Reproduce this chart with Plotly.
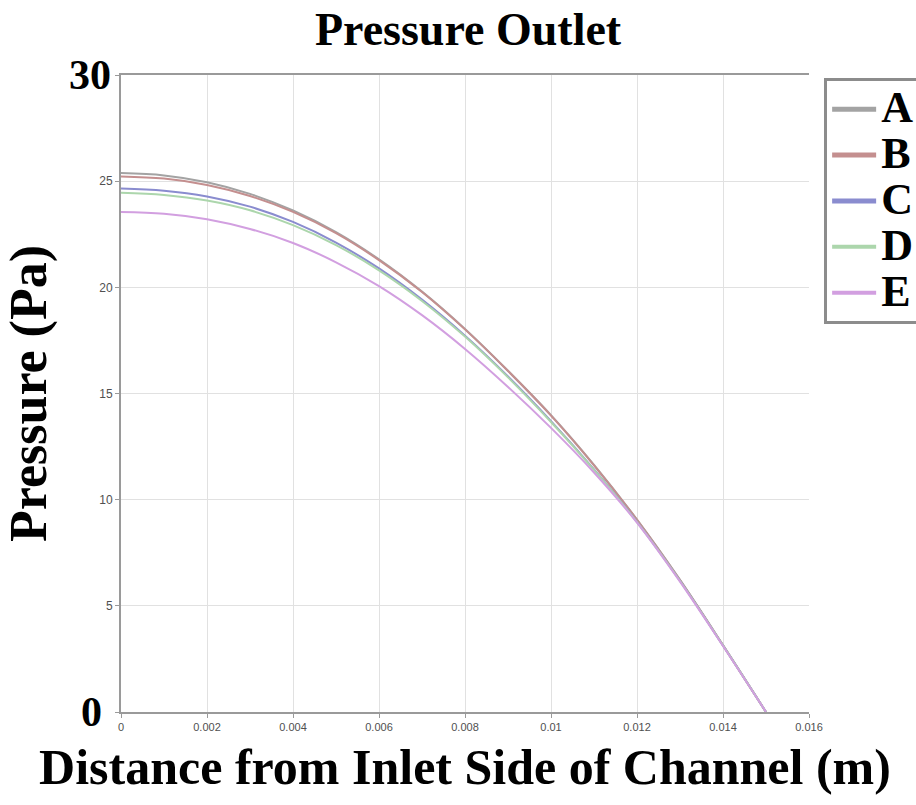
import plotly.graph_objects as go

# Distance along the channel (m)
distance = [0.000, 0.001, 0.002, 0.003, 0.004, 0.005, 0.006, 0.007,
            0.008, 0.009, 0.010, 0.011, 0.012, 0.013, 0.014, 0.015]

# Pressure profiles (Pa) for each case
pressure_a = [25.38, 25.27, 24.95, 24.40, 23.62, 22.60, 21.32, 19.80,
              18.04, 16.07, 13.98, 11.64, 9.06, 6.22, 3.15, 0.0]
pressure_b = [25.22, 25.12, 24.82, 24.30, 23.55, 22.55, 21.28, 19.78,
              18.02, 16.06, 13.96, 11.62, 9.05, 6.21, 3.14, 0.0]
pressure_c = [24.65, 24.55, 24.28, 23.80, 23.08, 22.11, 20.89, 19.42,
              17.72, 15.80, 13.70, 11.43, 8.96, 6.18, 3.13, 0.0]
pressure_d = [24.45, 24.35, 24.09, 23.63, 22.93, 21.99, 20.80, 19.36,
              17.68, 15.76, 13.66, 11.40, 8.94, 6.17, 3.13, 0.0]
pressure_e = [23.55, 23.47, 23.21, 22.75, 22.09, 21.18, 20.06, 18.69,
              17.10, 15.31, 13.38, 11.28, 8.92, 6.14, 3.11, 0.0]

series_names = ["A", "B", "C", "D", "E"]
series_values = [pressure_a, pressure_b, pressure_c, pressure_d, pressure_e]
series_colors = ["#a3a3a3", "#c48f8f", "#8a8ccf", "#acd6ac", "#d29fe0"]
legend_widths = [5, 5, 5, 4, 4]

x_tick_vals = [0, 0.002, 0.004, 0.006, 0.008, 0.01, 0.012, 0.014, 0.016]
x_tick_text = ["0", "0.002", "0.004", "0.006", "0.008", "0.01", "0.012", "0.014", "0.016"]
y_tick_vals = [0, 5, 10, 15, 20, 25, 30]
y_tick_text = ["0", "5", "10", "15", "20", "25", "30"]
y_big_ticks = [0, 30]

serif = "Liberation Serif, Times New Roman, serif"
sans = "Liberation Sans, Arial, sans-serif"

fig = go.Figure()

for name, vals, color in zip(series_names, series_values, series_colors):
    fig.add_trace(go.Scatter(
        x=distance, y=vals, mode="lines", name=name,
        line=dict(color=color, width=2, shape="spline", smoothing=1.0),
        showlegend=False,
    ))

# legend entries with thicker line samples
for name, color, w in zip(series_names, series_colors, legend_widths):
    fig.add_trace(go.Scatter(
        x=[None], y=[None], mode="lines",
        name="<span style='font-size:44px'><b>%s</b></span>" % name,
        line=dict(color=color, width=w),
    ))

# large labels at the ends of the pressure axis
y_small_text = ["" if v in y_big_ticks else t for v, t in zip(y_tick_vals, y_tick_text)]
annotations = []
for v, t in zip(y_tick_vals, y_tick_text):
    if v in y_big_ticks:
        annotations.append(dict(
            x=0, xref="paper", xshift=-8 if v == 30 else -17, y=v, yref="y",
            text="<b>%s</b>" % t, showarrow=False,
            xanchor="right", yanchor="middle",
            font=dict(family=serif, size=42, color="black"),
        ))

fig.update_layout(
    width=916, height=805,
    margin=dict(l=121, r=107, t=75, b=93, autoexpand=False),
    paper_bgcolor="white", plot_bgcolor="white",
    title=dict(
        text="<b>Pressure Outlet</b>",
        x=0.511, xref="container", xanchor="center",
        y=1 - 29 / 805, yref="container", yanchor="middle",
        font=dict(family=serif, size=46, color="black"),
    ),
    legend=dict(
        x=1.022, xanchor="left", y=0.995, yanchor="top",
        bgcolor="white", bordercolor="#8c8c8c", borderwidth=3,
        font=dict(family=serif, size=33, color="black"),
        itemwidth=44, tracegroupgap=0,
    ),
    annotations=annotations,
    showlegend=True,
)

fig.update_xaxes(
    range=[0, 0.016], tickvals=x_tick_vals, ticktext=x_tick_text,
    showgrid=True, gridcolor="#e1e1e1", gridwidth=1,
    showline=True, linecolor="#9a9a9a", linewidth=2, mirror=True,
    ticks="outside", ticklen=4, tickcolor="#9a9a9a",
    tickfont=dict(family=sans, size=11, color="#505050"),
    zeroline=False, automargin=False,
    title=dict(text="<b>Distance from Inlet Side of Channel (m)</b>",
               font=dict(family=serif, size=50, color="black"), standoff=17),
)
fig.update_yaxes(
    range=[0, 30], tickvals=y_tick_vals, ticktext=y_small_text,
    showgrid=True, gridcolor="#e1e1e1", gridwidth=1,
    showline=True, linecolor="#9a9a9a", linewidth=2,
    ticks="outside", ticklen=4, tickcolor="#9a9a9a",
    tickfont=dict(family=sans, size=12, color="#505050"),
    zeroline=False, automargin=False,
    title=dict(text="<b>Pressure (Pa)</b>",
               font=dict(family=serif, size=52, color="black"), standoff=37),
)

fig.write_html("out.html")
